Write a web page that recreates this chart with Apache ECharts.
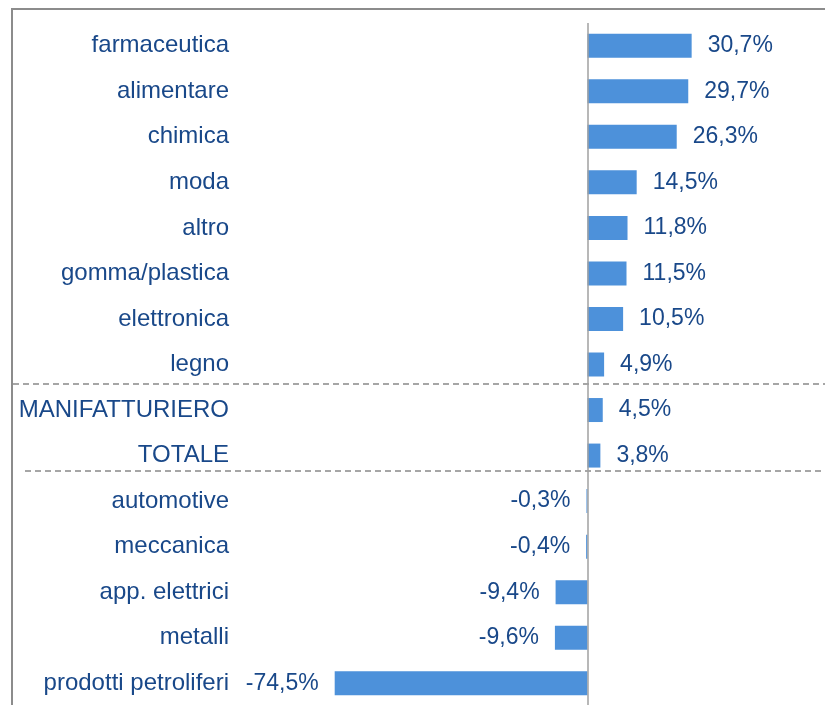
<!DOCTYPE html>
<html>
<head>
<meta charset="utf-8">
<script src="https://cdn.jsdelivr.net/npm/echarts@6/dist/echarts.min.js"></script>
<style>
  html, body { margin: 0; padding: 0; background: #fff; }
  #chart { width: 825px; height: 705px; }
</style>
</head>
<body>
<div id="chart"></div>
<script>
// settori, dall'alto in basso
const categories = [
    'farmaceutica', 'alimentare', 'chimica', 'moda', 'altro',
    'gomma/plastica', 'elettronica', 'legno', 'MANIFATTURIERO', 'TOTALE',
    'automotive', 'meccanica', 'app. elettrici', 'metalli', 'prodotti petroliferi'
];
const values = [30.7, 29.7, 26.3, 14.5, 11.8, 11.5, 10.5, 4.9, 4.5, 3.8, -0.3, -0.4, -9.4, -9.6, -74.5];

const fontFamily = '"Liberation Sans", Arial, sans-serif';
const textColor = '#194889';
const barColor = '#4d91da';

const chart = echarts.init(document.getElementById('chart'));

const fmt = (v) => v.toFixed(1).replace('.', ',') + '%';

const option = {
    animation: false,
    backgroundColor: '#fff',
    grid: {
        left: 333, right: 0, top: 23, height: 683,
        containLabel: false,
        outerBoundsMode: 'none'
    },
    xAxis: {
        type: 'value',
        min: -75,
        max: 70,
        show: false
    },
    yAxis: {
        type: 'category',
        data: categories,
        inverse: true,
        axisLine: { show: false },
        axisTick: { show: false },
        splitLine: { show: false },
        axisLabel: {
            margin: 104,
            color: textColor,
            fontFamily: fontFamily,
            fontSize: 24
        }
    },
    series: [{
        type: 'bar',
        barWidth: 24,
        itemStyle: { color: barColor },
        data: values.map((v) => ({
            value: v,
            label: { position: v < 0 ? 'left' : 'right' }
        })),
        label: {
            show: true,
            distance: 16,
            color: textColor,
            fontFamily: fontFamily,
            fontSize: 23,
            formatter: (p) => fmt(p.value)
        },
        markLine: {
            silent: true,
            symbol: 'none',
            label: { show: false },
            lineStyle: { color: '#a0a0a0', type: 'solid', width: 1.5 },
            data: [{ xAxis: 0 }]
        }
    }],
    graphic: [
        // cornice
        {
            type: 'rect',
            shape: { x: 12, y: 9, width: 830, height: 720 },
            style: { fill: 'none', stroke: '#8c8c8c', lineWidth: 2 },
            silent: true
        },
        // separatori tratteggiati
        {
            type: 'line',
            shape: { x1: 13, y1: 384, x2: 825, y2: 384 },
            style: { stroke: '#a6a6a6', lineWidth: 2, lineDash: [6, 4] },
            silent: true
        },
        {
            type: 'line',
            shape: { x1: 25, y1: 471, x2: 825, y2: 471 },
            style: { stroke: '#a6a6a6', lineWidth: 2, lineDash: [6, 4] },
            silent: true
        }
    ]
};

chart.setOption(option);
</script>
</body>
</html>
